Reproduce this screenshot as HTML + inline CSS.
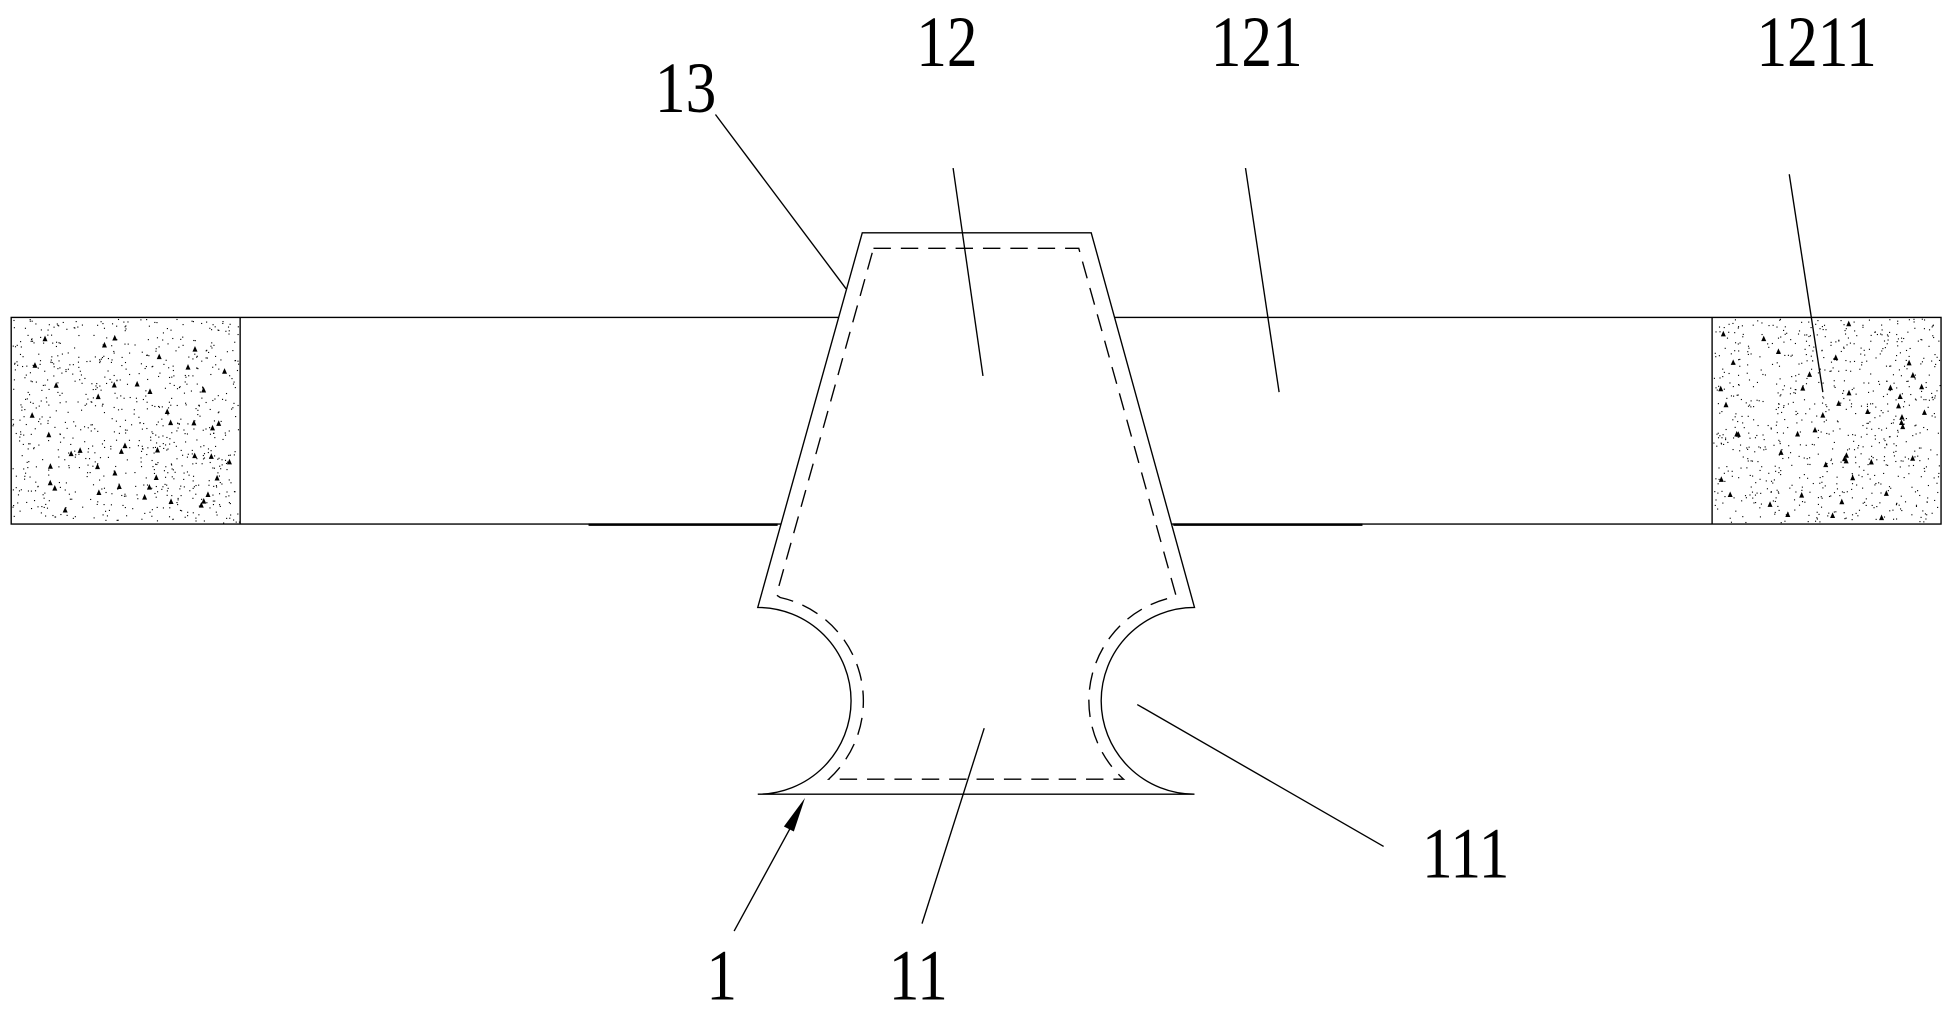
<!DOCTYPE html>
<html><head><meta charset="utf-8"><style>
html,body{margin:0;padding:0;background:#fff;}
svg{display:block;}
text{font-family:"Liberation Serif",serif;font-size:58px;fill:#000;}
</style></head><body>
<svg id="s" width="1951" height="1012" viewBox="0 0 1568 813" preserveAspectRatio="none" xmlns="http://www.w3.org/2000/svg">
<g id="dots"></g>
<g fill="none" stroke="#000" stroke-width="1.1">
<rect x="9" y="255" width="1551" height="166"/>
<line x1="193" y1="255" x2="193" y2="421"/>
<line x1="1376" y1="255" x2="1376" y2="421"/>
<line x1="473" y1="421.5" x2="625" y2="421.5" stroke-width="2"/>
<line x1="943" y1="421.5" x2="1095" y2="421.5" stroke-width="2"/>
<path d="M693,187 L877,187 L960,488 A75,75 0 0 0 960,638 L609,638 A75,75 0 0 0 609,488 Z" fill="#fff"/>
<path d="M702,199.5 L867,199.5 L945,478 L942,480 A85,85 0 0 0 903,626 L666,626 A85,85 0 0 0 627,480 L624,478 Z" stroke-dasharray="14,8"/>
<line x1="575" y1="92" x2="680" y2="232"/>
<line x1="766" y1="135" x2="790" y2="302"/>
<line x1="1001" y1="135" x2="1028" y2="315"/>
<line x1="1438" y1="140" x2="1465" y2="315"/>
<line x1="914" y1="566" x2="1112" y2="680"/>
<line x1="791" y1="585" x2="741" y2="742"/>
<line x1="590" y1="748" x2="638" y2="660"/>
</g>
<polygon points="647,641 638,668 630,664" fill="#000"/>
<g transform="translate(551,90) scale(0.85,1)"><text text-anchor="middle">13</text></g>
<g transform="translate(761,53) scale(0.85,1)"><text text-anchor="middle">12</text></g>
<g transform="translate(1010,53) scale(0.85,1)"><text text-anchor="middle">121</text></g>
<g transform="translate(1460,53) scale(0.85,1)"><text text-anchor="middle">1211</text></g>
<g transform="translate(1178,705) scale(0.85,1)"><text text-anchor="middle">111</text></g>
<g transform="translate(580,803) scale(0.85,1)"><text text-anchor="middle">1</text></g>
<g transform="translate(738,803) scale(0.85,1)"><text text-anchor="middle">11</text></g>
</svg>
<script>
(function(){
var g=document.getElementById('dots'),ns='http://www.w3.org/2000/svg',seed=7;
function r(){seed=(seed*16807)%2147483647;return seed/2147483647;}
function fill(x0,x1){
 for(var i=0;i<800;i++){var c=document.createElementNS(ns,'rect');
  c.setAttribute('x',(x0+r()*(x1-x0)).toFixed(1));c.setAttribute('y',(256+r()*164).toFixed(1));
  c.setAttribute('width','0.9');c.setAttribute('height','0.9');c.setAttribute('fill','#000');g.appendChild(c);}
 for(var j=0;j<45;j++){var x=x0+4+r()*(x1-x0-8),y=260+r()*156,p=document.createElementNS(ns,'polygon');
  p.setAttribute('points',x+','+(y-2.5)+' '+(x-2)+','+(y+2)+' '+(x+2)+','+(y+2));p.setAttribute('fill','#000');g.appendChild(p);}
}
fill(10,192);fill(1377,1559);
})();
</script>
</body></html>
